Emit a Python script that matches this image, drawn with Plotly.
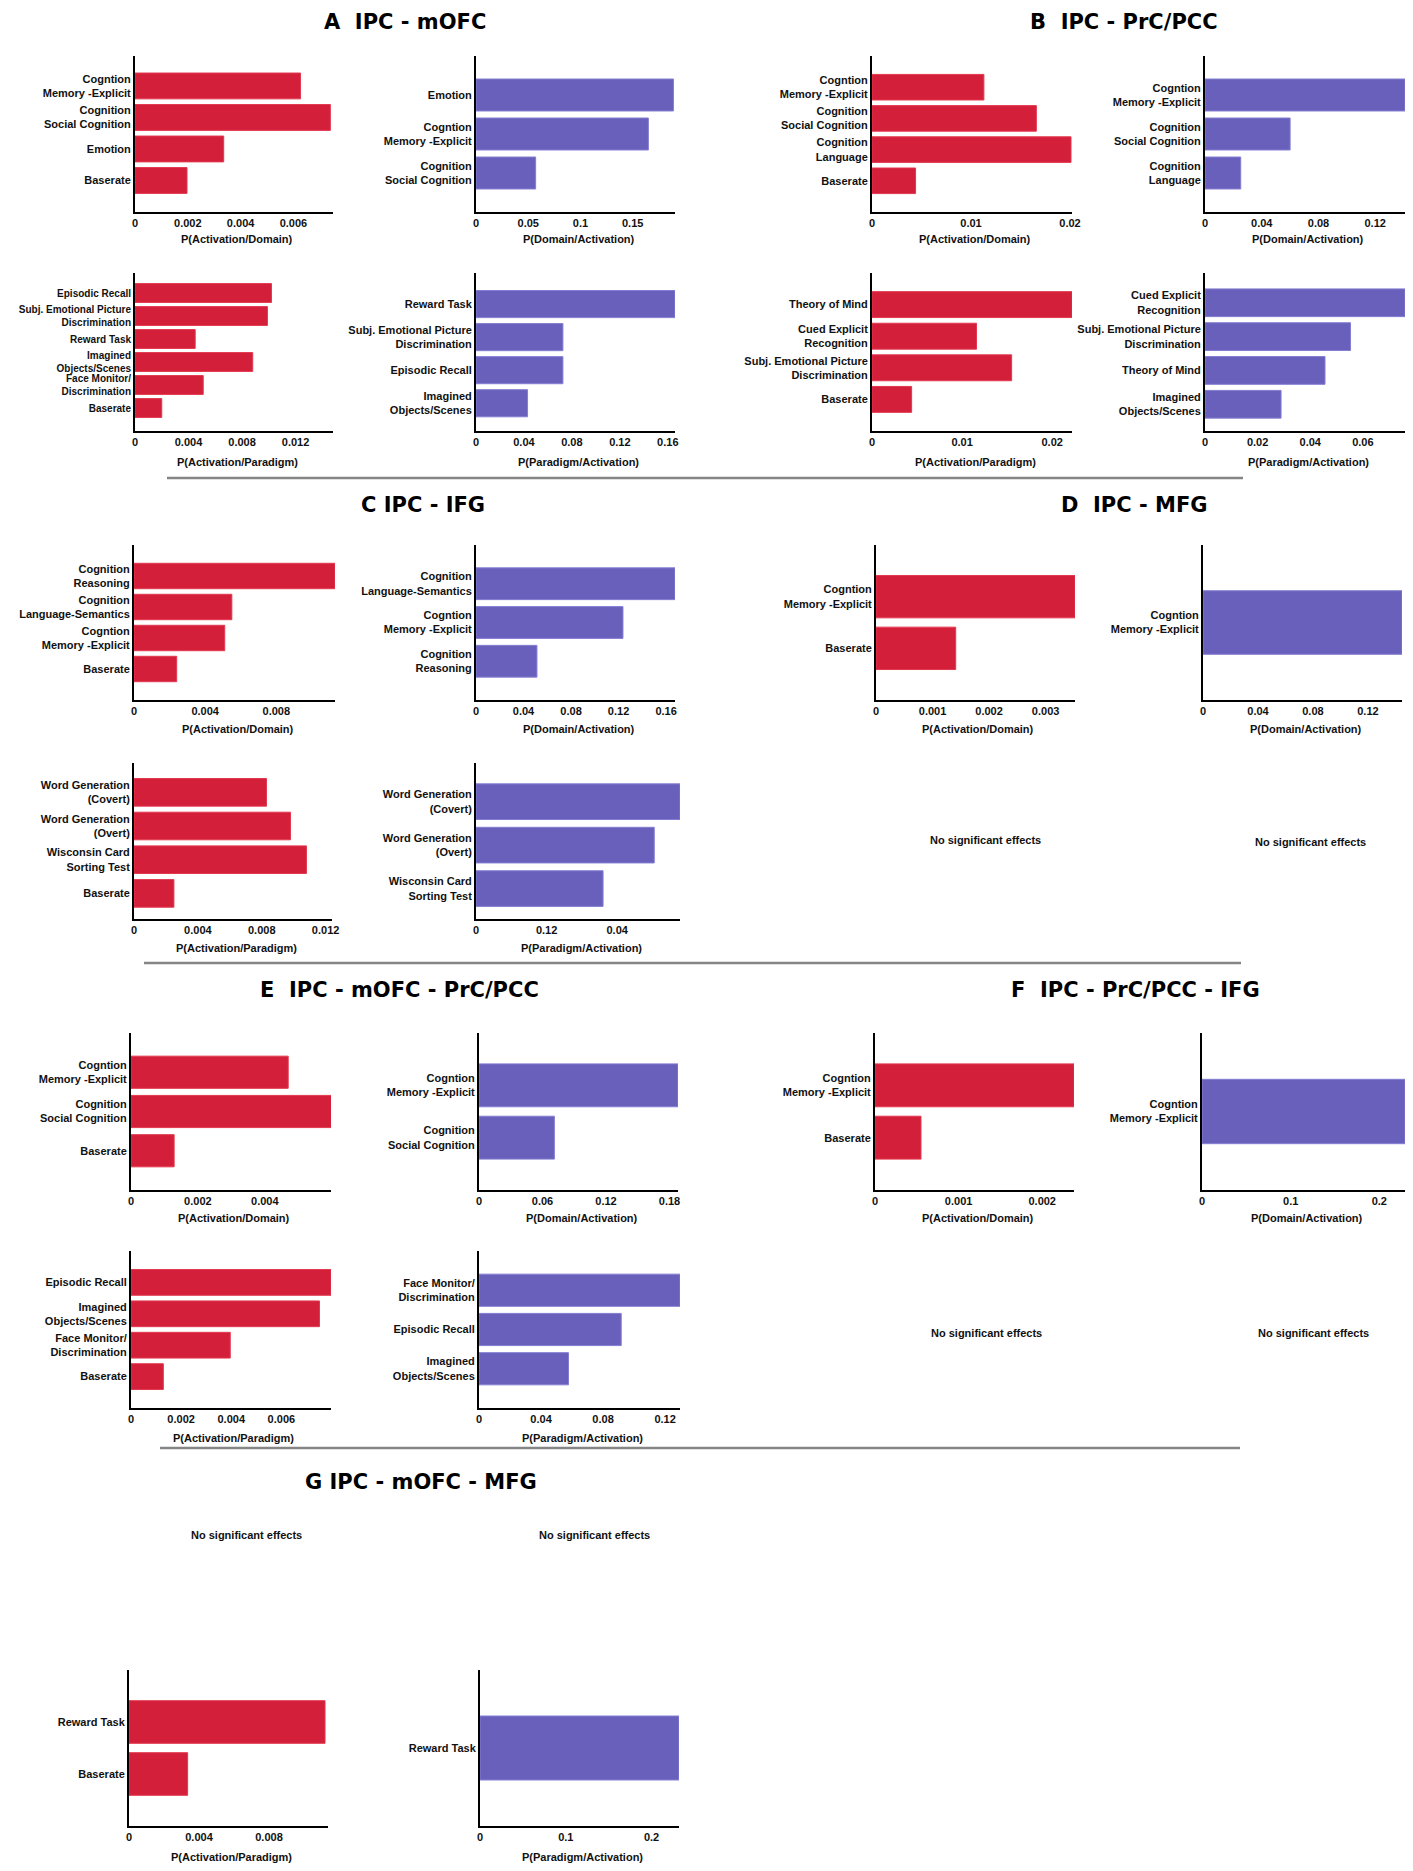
import plotly.graph_objects as go

W, H = 1413, 1871
OFF = 8                      # default body margin of the html page
FW, FH = W - 2 * OFF, H - 2 * OFF
RED = "#d41f3a"
RED_EDGE = "#e2394f"
BLUE = "#6860bb"
BLUE_EDGE = "#847ed2"
FONT = "Liberation Sans, Arial, sans-serif"
TITLE_FONT = "DejaVu Sans, Liberation Sans, sans-serif"

MEM = "Cogntion<br>Memory -Explicit"
SOC = "Cognition<br>Social Cognition"
SUBJ = "Subj. Emotional Picture<br>Discrimination"
IMAG = "Imagined<br>Objects/Scenes"
FACE = "Face Monitor/<br>Discrimination"

# A  IPC - mOFC
a_act_dom_cats = [MEM, SOC, "Emotion", "Baserate"]
a_act_dom_vals = [0.00627, 0.0074, 0.00336, 0.00197]
a_dom_act_cats = ["Emotion", MEM, SOC]
a_dom_act_vals = [0.189, 0.165, 0.0571]
a_act_par_cats = ["Episodic Recall", SUBJ, "Reward Task", IMAG, FACE, "Baserate"]
a_act_par_vals = [0.0102, 0.0099, 0.0045, 0.0088, 0.0051, 0.0020]
a_par_act_cats = ["Reward Task", SUBJ, "Episodic Recall", IMAG]
a_par_act_vals = [0.166, 0.0725, 0.0725, 0.043]

# B  IPC - PrC/PCC
b_act_dom_cats = [MEM, SOC, "Cognition<br>Language", "Baserate"]
b_act_dom_vals = [0.0113, 0.0166, 0.0201, 0.0044]
b_dom_act_cats = [MEM, SOC, "Cognition<br>Language"]
b_dom_act_vals = [0.141, 0.060, 0.0252]
b_act_par_cats = ["Theory of Mind", "Cued Explicit<br>Recognition", SUBJ, "Baserate"]
b_act_par_vals = [0.0222, 0.0116, 0.0155, 0.0044]
b_par_act_cats = ["Cued Explicit<br>Recognition", SUBJ, "Theory of Mind", IMAG]
b_par_act_vals = [0.076, 0.0553, 0.0456, 0.0289]

# C  IPC - IFG
c_act_dom_cats = ["Cognition<br>Reasoning", "Cognition<br>Language-Semantics", MEM, "Baserate"]
c_act_dom_vals = [0.0113, 0.0055, 0.0051, 0.0024]
c_dom_act_cats = ["Cognition<br>Language-Semantics", MEM, "Cognition<br>Reasoning"]
c_dom_act_vals = [0.1675, 0.1237, 0.0513]
c_act_par_cats = ["Word Generation<br>(Covert)", "Word Generation<br>(Overt)",
                  "Wisconsin Card<br>Sorting Test", "Baserate"]
c_act_par_vals = [0.0083, 0.0098, 0.0108, 0.0025]
c_par_act_cats = ["Word Generation<br>(Covert)", "Word Generation<br>(Overt)",
                  "Wisconsin Card<br>Sorting Test"]
c_par_act_vals = [0.0578, 0.0505, 0.0360]
c_par_act_ticks = [0, 0.02, 0.04]
c_par_act_ticktext = ["0", "0.12", "0.04"]  # as printed in the original

# D  IPC - MFG
d_act_dom_cats = [MEM, "Baserate"]
d_act_dom_vals = [0.00352, 0.00141]
d_dom_act_cats = [MEM]
d_dom_act_vals = [0.1448]

# E  IPC - mOFC - PrC/PCC
e_act_dom_cats = [MEM, SOC, "Baserate"]
e_act_dom_vals = [0.0047, 0.0061, 0.00129]
e_dom_act_cats = [MEM, SOC]
e_dom_act_vals = [0.188, 0.0712]
e_act_par_cats = ["Episodic Recall", IMAG, FACE, "Baserate"]
e_act_par_vals = [0.00798, 0.00752, 0.00396, 0.00129]
e_par_act_cats = [FACE, "Episodic Recall", IMAG]
e_par_act_vals = [0.1296, 0.0917, 0.0577]

# F  IPC - PrC/PCC - IFG
f_act_dom_cats = [MEM, "Baserate"]
f_act_dom_vals = [0.00238, 0.00055]
f_dom_act_cats = [MEM]
f_dom_act_vals = [0.229]

# G  IPC - mOFC - MFG
g_act_par_cats = ["Reward Task", "Baserate"]
g_act_par_vals = [0.0112, 0.00335]
g_par_act_cats = ["Reward Task"]
g_par_act_vals = [0.232]

AD, DA = "P(Activation/Domain)", "P(Domain/Activation)"
AP, PA = "P(Activation/Paradigm)", "P(Paradigm/Activation)"


def fx(px):
    return (px - OFF) / FW


def fy(py):
    return 1 - (py - OFF) / FH


# rows: (axis top, axis bottom, x-label y) in screen pixels
R1 = (56, 212, 239)
R2 = (273, 431, 462)
R3 = (545, 700, 729)
R4 = (763, 919, 948)
R5 = (1033, 1190, 1218)
R6 = (1251, 1408, 1438)
R8 = (1670, 1826, 1857)

# cats, vals, colour, x-label, x span (px), row, xmax, ticks, y range
panels = [
    (a_act_dom_cats, a_act_dom_vals, "r", AD, (135, 333), R1, 0.0075, 0.002, [4, -0.95]),
    (a_dom_act_cats, a_dom_act_vals, "b", DA, (476, 675), R1, 0.1905, 0.05, [3, -1]),
    (b_act_dom_cats, b_act_dom_vals, "r", AD, (872, 1072), R1, 0.0202, 0.01, [4, -1]),
    (b_dom_act_cats, b_dom_act_vals, "b", DA, (1205, 1405), R1, 0.141, 0.04, [3, -1]),
    (a_act_par_cats, a_act_par_vals, "r", AP, (135, 333), R2, 0.0148, 0.004, [6, -0.87]),
    (a_par_act_cats, a_par_act_vals, "b", PA, (476, 675), R2, 0.166, 0.04, [3.84, -0.94]),
    (b_act_par_cats, b_act_par_vals, "r", AP, (872, 1072), R2, 0.0222, 0.01, [4, -1]),
    (b_par_act_cats, b_par_act_vals, "b", PA, (1205, 1405), R2, 0.076, 0.02, [3.79, -0.88]),
    (c_act_dom_cats, c_act_dom_vals, "r", AD, (134, 335), R3, 0.0113, 0.004, [4, -1]),
    (c_dom_act_cats, c_dom_act_vals, "b", DA, (476, 675), R3, 0.1675, 0.04, [3, -1]),
    (d_act_dom_cats, d_act_dom_vals, "r", AD, (876, 1075), R3, 0.00352, 0.001, [2, -1]),
    (d_dom_act_cats, d_dom_act_vals, "b", DA, (1203, 1402), R3, 0.1448, 0.04, [1, -1]),
    (c_act_par_cats, c_act_par_vals, "r", AP, (134, 332), R4, 0.0124, 0.004, [3.76, -0.87]),
    (c_par_act_cats, c_par_act_vals, "b", PA, (476, 680), R4, 0.0578,
     (c_par_act_ticks, c_par_act_ticktext), [2.7, -0.89]),
    (e_act_dom_cats, e_act_dom_vals, "r", AD, (131, 331), R5, 0.00598, 0.002, [3, -1]),
    (e_dom_act_cats, e_dom_act_vals, "b", DA, (479, 678), R5, 0.188, 0.06, [2, -1]),
    (f_act_dom_cats, f_act_dom_vals, "r", AD, (875, 1074), R5, 0.00238, 0.001, [2, -1]),
    (f_dom_act_cats, f_dom_act_vals, "b", DA, (1202, 1405), R5, 0.229, 0.1, [1, -1]),
    (e_act_par_cats, e_act_par_vals, "r", AP, (131, 331), R6, 0.00798, 0.002, [4, -1]),
    (e_par_act_cats, e_par_act_vals, "b", PA, (479, 680), R6, 0.1296, 0.04, [3, -1]),
    (g_act_par_cats, g_act_par_vals, "r", AP, (129, 328), R8, 0.01137, 0.004, [2, -1]),
    (g_par_act_cats, g_par_act_vals, "b", PA, (480, 679), R8, 0.232, 0.1, [1, -1]),
]

fig = go.Figure()
layout = {}
annotations = []
tfont = dict(family=FONT, size=11, color="#111111", weight="bold")

for i, (cats, vals, col, xlab, (x0, x1), (yt, yb, ly), xmax, ticks, yr) in enumerate(panels, start=1):
    sfx = "" if i == 1 else str(i)
    fill, edge = (RED, RED_EDGE) if col == "r" else (BLUE, BLUE_EDGE)
    fig.add_trace(go.Bar(
        x=vals, y=cats, orientation="h", width=0.82,
        marker=dict(color=fill, line=dict(color=edge, width=1)),
        xaxis="x" + sfx, yaxis="y" + sfx, hoverinfo="x+y",
    ))
    xax = dict(domain=[fx(x0), fx(x1)], anchor="y" + sfx, range=[0, xmax],
               showline=True, linecolor="black", linewidth=2, ticks="",
               showgrid=False, zeroline=False, tickfont=tfont, automargin=False,
               fixedrange=True)
    if isinstance(ticks, tuple):
        xax.update(tickmode="array", tickvals=ticks[0], ticktext=ticks[1])
    else:
        xax.update(tick0=0, dtick=ticks)
    layout["xaxis" + sfx] = xax
    # six stacked labels need a slightly smaller font to fit
    yfont = dict(tfont, size=10) if len(cats) > 5 else tfont
    layout["yaxis" + sfx] = dict(
        domain=[fy(yb), fy(yt)], anchor="x" + sfx, type="category",
        categoryorder="array", categoryarray=cats, range=yr,
        showline=True, linecolor="black", linewidth=2, ticks="",
        showgrid=False, zeroline=False, tickfont=yfont, automargin=False,
        fixedrange=True)
    annotations.append(dict(text=xlab, x=fx((x0 + x1) / 2 + 3), y=fy(ly),
                            xref="paper", yref="paper", showarrow=False,
                            xanchor="center", yanchor="middle", font=tfont))

titles = [
    ("A  IPC - mOFC", 405, 22),
    ("B  IPC - PrC/PCC", 1124, 22),
    ("C IPC - IFG", 423, 505),
    ("D  IPC - MFG", 1134, 505),
    ("E  IPC - mOFC - PrC/PCC", 399, 990),
    ("F  IPC - PrC/PCC - IFG", 1135, 990),
    ("G IPC - mOFC - MFG", 421, 1482),
]
for txt, x, y in titles:
    annotations.append(dict(text=txt, x=fx(x), y=fy(y), xref="paper", yref="paper",
                            showarrow=False, xanchor="center", yanchor="middle",
                            font=dict(family=TITLE_FONT, size=21, color="black", weight="bold")))

# empty panels
for x, y in [(985, 840), (1310, 842), (986, 1333), (1313, 1333), (246, 1535), (594, 1535)]:
    annotations.append(dict(text="No significant effects", x=fx(x), y=fy(y),
                            xref="paper", yref="paper", showarrow=False,
                            xanchor="center", yanchor="middle", font=tfont))

# grey separators between the panel groups
shapes = []
for xa, xb, y in [(167, 1243, 478), (144, 1241, 963), (160, 1240, 1448)]:
    shapes.append(dict(type="line", xref="paper", yref="paper",
                       x0=fx(xa), x1=fx(xb), y0=fy(y), y1=fy(y),
                       line=dict(color="#858585", width=2.5)))

fig.update_layout(
    width=FW, height=FH, margin=dict(l=0, r=0, t=0, b=0),
    paper_bgcolor="white", plot_bgcolor="white", showlegend=False,
    annotations=annotations, shapes=shapes, **layout,
)

fig.write_html("out.html")
